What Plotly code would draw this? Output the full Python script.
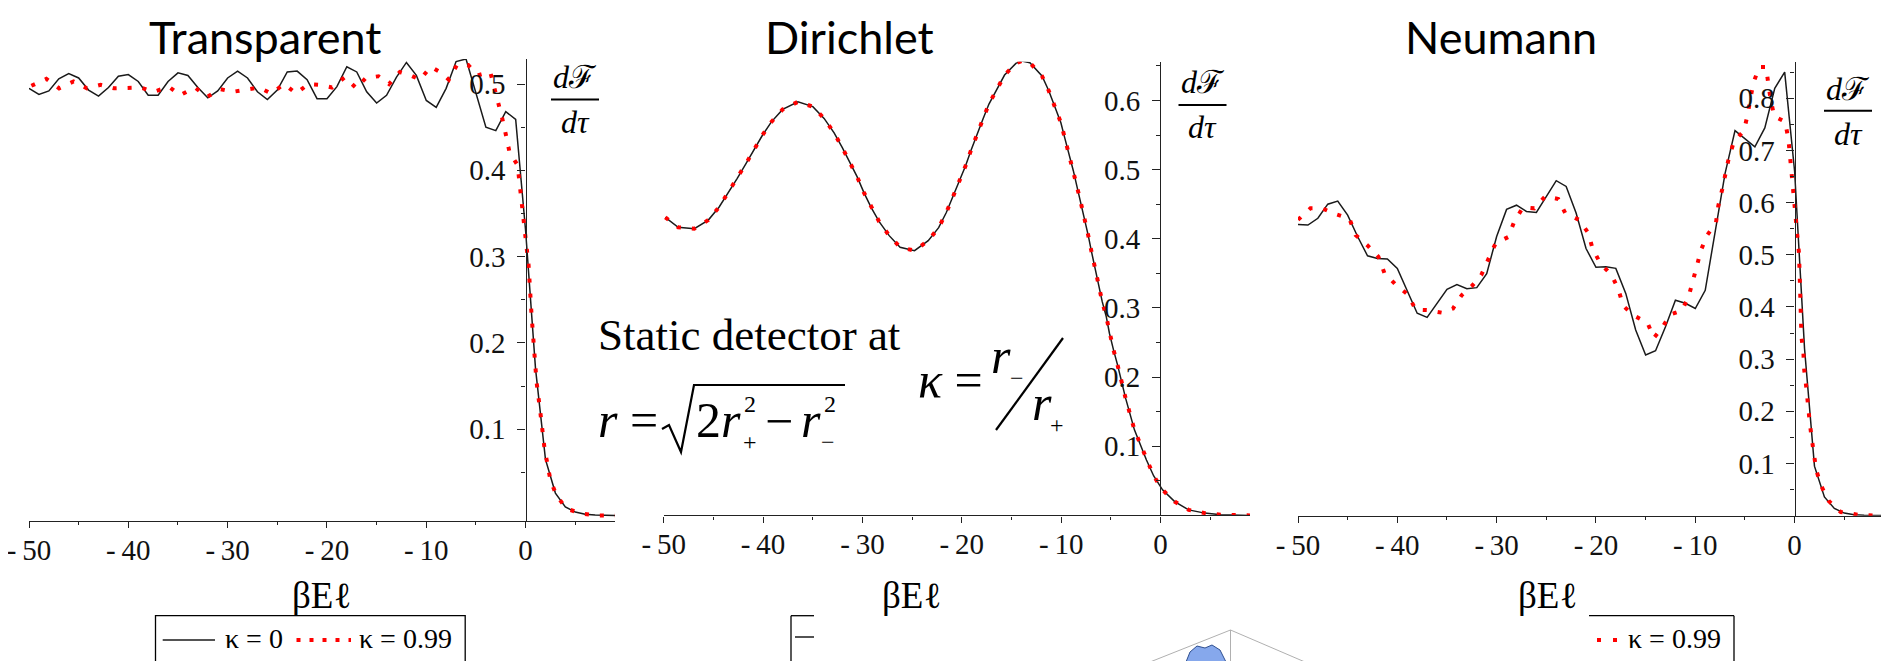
import plotly.graph_objects as go

W, H = 1889, 661
OFF = 8                      # default page margin of the html body
FW, FH = W - OFF, H - OFF    # figure size so that it ends exactly at the window edge
SERIF = "Liberation Serif, Times New Roman, serif"
SANS = "Lato, Open Sans, sans-serif"

# ---------------- data ----------------
x_tick_vals = [-50, -40, -30, -20, -10, 0]
x_tick_text = ["-\u200950", "-\u200940", "-\u200930", "-\u200920", "-\u200910", "0"]
x_minor_vals = [-45, -35, -25, -15, -5, 5]

# Transparent
T_black_x = list(range(-50, 10))
T_black_y = [0.495, 0.488, 0.492, 0.506, 0.512, 0.507, 0.493, 0.486, 0.496, 0.509,
             0.511, 0.503, 0.487, 0.487, 0.503, 0.513, 0.510, 0.496, 0.484, 0.492,
             0.507, 0.515, 0.507, 0.491, 0.482, 0.493, 0.514, 0.515, 0.505, 0.483,
             0.483, 0.497, 0.520, 0.514, 0.491, 0.478, 0.487, 0.508, 0.525, 0.510,
             0.481, 0.473, 0.495, 0.526, 0.529, 0.489, 0.450, 0.446, 0.468, 0.459,
             0.330, 0.170, 0.065, 0.026, 0.010, 0.004, 0.0015, 0.0005, 0.0, 0.0]
T_red_x = [-49.76, -48.26, -46.97, -45.51, -44.17, -42.80, -41.42, -40.05, -38.75, -37.42,
           -35.92, -34.79, -33.29, -32.08, -30.74, -29.45, -28.16, -26.82, -25.61, -24.31,
           -23.10, -21.89, -20.67, -19.50, -18.20, -17.03, -16.10, -14.81, -13.75, -12.66,
           -11.57, -10.64, -9.55, -8.50, -7.73, -6.92, -5.78, -4.85, -3.56, -2.67,
           -2.35, -2.02, -1.62, -0.81, -0.40, 0.0, 0.30, 0.60, 0.85, 1.10,
           1.50, 1.90, 2.50, 3.10, 4.10, 5.70, 7.40, 9.0]
T_red_y = [0.498, 0.506, 0.495, 0.503, 0.495, 0.499, 0.495, 0.495, 0.496, 0.491,
           0.497, 0.487, 0.496, 0.485, 0.494, 0.491, 0.493, 0.496, 0.489, 0.500,
           0.489, 0.500, 0.499, 0.496, 0.508, 0.495, 0.507, 0.509, 0.500, 0.514,
           0.510, 0.505, 0.520, 0.513, 0.505, 0.522, 0.522, 0.510, 0.514, 0.477,
           0.460, 0.443, 0.421, 0.406, 0.366, 0.329, 0.290, 0.232, 0.190, 0.155,
           0.118, 0.078, 0.041, 0.0235, 0.008, 0.002, 0.0, 0.0]

# Dirichlet (both curves coincide)
D_x = [-49.84, -48.54, -46.92, -45.51, -44.42, -43.49, -42.6, -41.75, -40.94, -40.05,
       -39.16, -38.03, -36.49, -34.99, -33.86, -32.85, -32.04, -31.27, -30.54, -29.85,
       -29.13, -28.32, -27.31, -26.21, -24.76, -23.38, -22.33, -21.56, -20.91, -20.23,
       -19.62, -19.09, -18.53, -17.88, -17.27, -16.5, -15.7, -14.56, -13.96, -13.15,
       -11.93, -11.25, -10.6, -10.03, -9.63, -9.18, -8.78, -8.41, -8.01, -7.61,
       -7.28, -6.96, -6.6, -6.27, -5.87, -5.46, -5.14, -4.73, -4.33, -3.52,
       -2.63, -1.42, -0.69, 0.2, 1.42, 2.83, 4.45, 6.07, 7.9, 9.0]
D_y = [0.431, 0.4166, 0.4146, 0.427, 0.446, 0.4667, 0.4874, 0.508, 0.528, 0.550,
       0.569, 0.587, 0.598, 0.591, 0.574, 0.553, 0.532, 0.5105, 0.4898, 0.4667,
       0.4455, 0.4248, 0.4045, 0.3877, 0.3828, 0.3973, 0.416, 0.438, 0.46, 0.4825,
       0.5056, 0.5273, 0.5495, 0.5727, 0.5948, 0.616, 0.6367, 0.6536, 0.657, 0.6545,
       0.6353, 0.614, 0.590, 0.5678, 0.5452, 0.521, 0.4984, 0.4753, 0.4513, 0.428,
       0.405, 0.382, 0.358, 0.333, 0.309, 0.287, 0.263, 0.239, 0.2176, 0.1695,
       0.1237, 0.080, 0.057, 0.037, 0.020, 0.008, 0.0033, 0.001, 0.0, 0.0]

# Neumann
N_black_x = list(range(-50, 10))
N_black_y = [0.558, 0.557, 0.570, 0.597, 0.603, 0.576, 0.535, 0.498, 0.493, 0.492,
             0.474, 0.432, 0.388, 0.380, 0.407, 0.434, 0.443, 0.435, 0.437, 0.464,
             0.535, 0.587, 0.595, 0.583, 0.581, 0.611, 0.642, 0.631, 0.580, 0.512,
             0.476, 0.477, 0.474, 0.426, 0.356, 0.308, 0.316, 0.362, 0.413, 0.407,
             0.397, 0.432, 0.541, 0.656, 0.738, 0.723, 0.707, 0.743, 0.819, 0.850,
             0.660, 0.320, 0.095, 0.036, 0.014, 0.005, 0.002, 0.001, 0.0, 0.0]
N_red_x = [-50.0, -48.75, -47.57, -46.24, -44.82, -44.2, -43.0, -41.9, -41.3, -40.17,
           -38.96, -38.15, -37.0, -35.5, -34.4, -33.5, -32.5, -31.55, -30.8, -30.1,
           -28.84, -28.24, -27.35, -26.2, -25.1, -23.8, -23.1, -21.7, -20.75, -20.35,
           -19.54, -18.42, -17.75, -17.25, -16.24, -14.83, -14.16, -13.39, -12.48, -11.37,
           -10.7, -10.26, -9.86, -9.43, -8.79, -7.92, -7.68, -7.28, -6.98, -6.61,
           -6.1, -5.1, -4.76, -4.49, -4.16, -3.55, -2.88, -2.65, -2.41, -2.04,
           -1.4, -0.97, -0.63, -0.46, -0.29, -0.13, 0.04, 0.21, 0.31, 0.44,
           0.52, 0.60, 0.69, 0.89, 0.97, 1.17, 1.38, 1.5, 1.7, 1.9,
           2.18, 2.71, 3.44, 4.65, 6.35, 7.97, 9.0]
N_red_y = [0.567, 0.589, 0.589, 0.578, 0.569, 0.538, 0.518, 0.496, 0.465, 0.443,
           0.424, 0.395, 0.394, 0.389, 0.397, 0.423, 0.440, 0.461, 0.493, 0.522,
           0.534, 0.563, 0.591, 0.589, 0.612, 0.607, 0.580, 0.567, 0.541, 0.512,
           0.483, 0.461, 0.434, 0.402, 0.384, 0.370, 0.341, 0.359, 0.386, 0.393,
           0.418, 0.447, 0.477, 0.509, 0.538, 0.561, 0.594, 0.626, 0.657, 0.687,
           0.717, 0.738, 0.766, 0.797, 0.829, 0.860, 0.860, 0.828, 0.797, 0.765,
           0.760, 0.755, 0.723, 0.691, 0.659, 0.627, 0.595, 0.563, 0.531, 0.503,
           0.455, 0.405, 0.343, 0.311, 0.279, 0.247, 0.215, 0.183, 0.151, 0.119,
           0.087, 0.056, 0.028, 0.007, 0.002, 0.0, 0.0]

titles = ["Transparent", "Dirichlet", "Neumann"]
legend_labels = ["\u03ba = 0", "\u03ba = 0.99"]

# ---------------- helpers (window pixels -> paper fractions) ----------------
def px(x):
    return (x - OFF) / FW

def py(y):
    return 1 - (y - OFF) / FH

BLACK = "#1a1a1a"
RED = "#ff0000"
DOTS = "4px,11px"

fig = go.Figure()

series = [
    (T_black_x, T_black_y, T_red_x, T_red_y),
    (D_x, D_y, D_x, D_y),
    (N_black_x, N_black_y, N_red_x, N_red_y),
]
for i, (bx, by, rx, ry) in enumerate(series):
    sfx = "" if i == 0 else str(i + 1)
    fig.add_trace(go.Scatter(x=bx, y=by, mode="lines", name=legend_labels[0],
                             line=dict(color=BLACK, width=1.5),
                             xaxis="x" + sfx, yaxis="y" + sfx, showlegend=False))
    fig.add_trace(go.Scatter(x=rx, y=ry, mode="lines", name=legend_labels[1],
                             line=dict(color=RED, width=4, dash=DOTS),
                             xaxis="x" + sfx, yaxis="y" + sfx, showlegend=False))

# axis geometry (window pixels)
panels = [
    dict(x0=29, x1=615, ytop=59, ybot=520.7, yr=[-0.006, 0.529], zero_x=525.5,
         yt=[0.1, 0.2, 0.3, 0.4, 0.5], ym=[0.05, 0.15, 0.25, 0.35, 0.45]),
    dict(x0=663.7, x1=1250, ytop=61.7, ybot=515.4, yr=[0.0, 0.656], zero_x=1160.3,
         yt=[0.1, 0.2, 0.3, 0.4, 0.5, 0.6], ym=[0.05, 0.15, 0.25, 0.35, 0.45, 0.55, 0.65]),
    dict(x0=1298, x1=1884, ytop=61.7, ybot=515.7, yr=[0.0, 0.87], zero_x=1794.6,
         yt=[0.1, 0.2, 0.3, 0.4, 0.5, 0.6, 0.7, 0.8],
         ym=[0.05, 0.15, 0.25, 0.35, 0.45, 0.55, 0.65, 0.75, 0.85]),
]
AX = "#222222"
tickfont = dict(family=SERIF, size=29, color="#111111")
layout_axes = {}
for i, p in enumerate(panels):
    sfx = "" if i == 0 else str(i + 1)
    layout_axes["xaxis" + sfx] = dict(
        domain=[px(p["x0"]), min(1.0, px(p["x1"]))], range=[-50, 9], anchor="y" + sfx,
        automargin=False, ticklabeloverflow="allow", ticklabelstandoff=-3,
        showline=True, linecolor=AX, linewidth=1.3, ticks="outside", ticklen=6,
        tickwidth=1.3, tickcolor=AX, tickmode="array", tickvals=x_tick_vals,
        ticktext=x_tick_text, tickfont=tickfont, showgrid=False, zeroline=False,
        minor=dict(tickmode="array", tickvals=x_minor_vals, ticks="outside",
                   ticklen=3.5, tickwidth=1.2, tickcolor=AX, showgrid=False),
    )
    layout_axes["yaxis" + sfx] = dict(
        domain=[py(p["ybot"]), py(p["ytop"])], range=p["yr"], anchor="free",
        position=px(p["zero_x"]), side="left", automargin=False,
        ticklabeloverflow="allow",
        showline=True, linecolor=AX, linewidth=1.3, ticks="outside", ticklen=8,
        tickwidth=1.3, tickcolor=AX, tickmode="array", tickvals=p["yt"],
        ticktext=[f"{v:.1f}" for v in p["yt"]], tickfont=tickfont,
        showgrid=False, zeroline=False, ticklabelstandoff=6,
        minor=dict(tickmode="array", tickvals=p["ym"], ticks="outside",
                   ticklen=4.5, tickwidth=1.2, tickcolor=AX, showgrid=False),
    )

annotations = []
shapes = []

def ann(text, x, y, size, family=SERIF, xanchor="left", yanchor="middle", color="black"):
    annotations.append(dict(text=text, x=px(x), y=py(y), xref="paper", yref="paper",
                            showarrow=False, xanchor=xanchor, yanchor=yanchor,
                            borderpad=0,
                            font=dict(family=family, size=size, color=color)))

def seg(x0, y0, x1, y1, color="black", width=1.3, dash="solid"):
    shapes.append(dict(type="line", xref="paper", yref="paper",
                       x0=px(x0), y0=py(y0), x1=px(x1), y1=py(y1),
                       line=dict(color=color, width=width, dash=dash)))

# titles
ann(titles[0], 265, 9, 45, family=SANS, xanchor="center", yanchor="top")
ann(titles[1], 849, 9, 45, family=SANS, xanchor="center", yanchor="top")
ann(titles[2], 1501, 9, 45, family=SANS, xanchor="center", yanchor="top")

# x-axis titles
for cx in (321, 911, 1547):
    ann("\u03b2E\u2113", cx, 595, 37, xanchor="center")

# y-axis fraction labels dF/dtau
for cx, num_y, line_y, den_y in ((575, 77, 99.5, 122), (1202.5, 82, 105, 127), (1848, 89, 110.7, 134)):
    ann("<i>d</i>\u2131", cx, num_y, 32, xanchor="center")
    seg(cx - 24, line_y, cx + 24, line_y, width=2)
    ann("<i>d\u03c4</i>", cx, den_y, 32, xanchor="center")

# Static detector text and formulas
ann("Static detector at", 597, 335, 45)
ann("<i>r</i> =", 597, 420, 50)
shapes.append(dict(type="path", xref="paper", yref="paper",
                   path=f"M {px(662)},{py(429)} L {px(669)},{py(425)} L {px(681)},{py(452)} "
                        f"L {px(694)},{py(385)} L {px(845)},{py(385)}",
                   line=dict(color="black", width=2.2)))
ann("2<i>r</i>", 695, 420, 50)
ann("+", 742, 442, 24)
ann("2", 743, 404, 24)
ann("\u2212", 779, 420.5, 50, xanchor="center")
ann("<i>r</i>", 800, 420, 50)
ann("\u2212", 820, 442, 24)
ann("2", 823, 404, 24)

ann("<i>\u03ba</i> =", 917, 380, 50)
ann("<i>r</i>", 990, 356, 50)
ann("\u2212", 1009, 378, 24)
seg(1063, 338, 996, 430, width=2.2)
ann("<i>r</i>", 1031, 403, 50)
ann("+", 1049, 425, 24)

# legend 1 (complete)
shapes.append(dict(type="rect", xref="paper", yref="paper", x0=px(155.5), y0=py(662),
                   x1=px(465.2), y1=py(615.7), line=dict(color="black", width=1.3)))
seg(162.7, 640, 215, 640, color=BLACK, width=1.5)
ann(legend_labels[0], 224, 638, 28)
seg(296.5, 640, 351, 640, color=RED, width=4, dash="4px,9px")
ann(legend_labels[1], 358, 638, 28)

# legend 2 (mostly hidden)
seg(791, 615.7, 791, 662)
seg(791, 615.7, 814, 615.7)
seg(795, 637, 814, 637, color=BLACK, width=1.5)

# legend 3 (partly hidden)
seg(1589, 615.7, 1734, 615.7)
seg(1734, 615.7, 1734, 662)
seg(1597, 640, 1619, 640, color=RED, width=4, dash="4px,12px")
ann(legend_labels[1], 1627, 638, 28)

# small 3D thumbnail at the bottom
seg(1150, 662, 1230.5, 630, color="#b0b0b0", width=1)
seg(1230.5, 630, 1305, 662, color="#b0b0b0", width=1)
seg(1230.5, 630, 1230.5, 662, color="#b0b0b0", width=1)
shapes.append(dict(type="path", xref="paper", yref="paper",
                   path=f"M {px(1186)},{py(662)} L {px(1190)},{py(652)} L {px(1197)},{py(646)} "
                        f"L {px(1205)},{py(648)} L {px(1212)},{py(645)} L {px(1220)},{py(650)} "
                        f"L {px(1226)},{py(662)} Z",
                   fillcolor="#86a8ec", line=dict(color="#2f4f90", width=1)))

fig.update_layout(
    width=FW, height=FH, margin=dict(l=0, r=0, t=0, b=0, autoexpand=False),
    paper_bgcolor="white", plot_bgcolor="white", showlegend=False,
    annotations=annotations, shapes=shapes, **layout_axes,
)

fig.write_html("out.html")
